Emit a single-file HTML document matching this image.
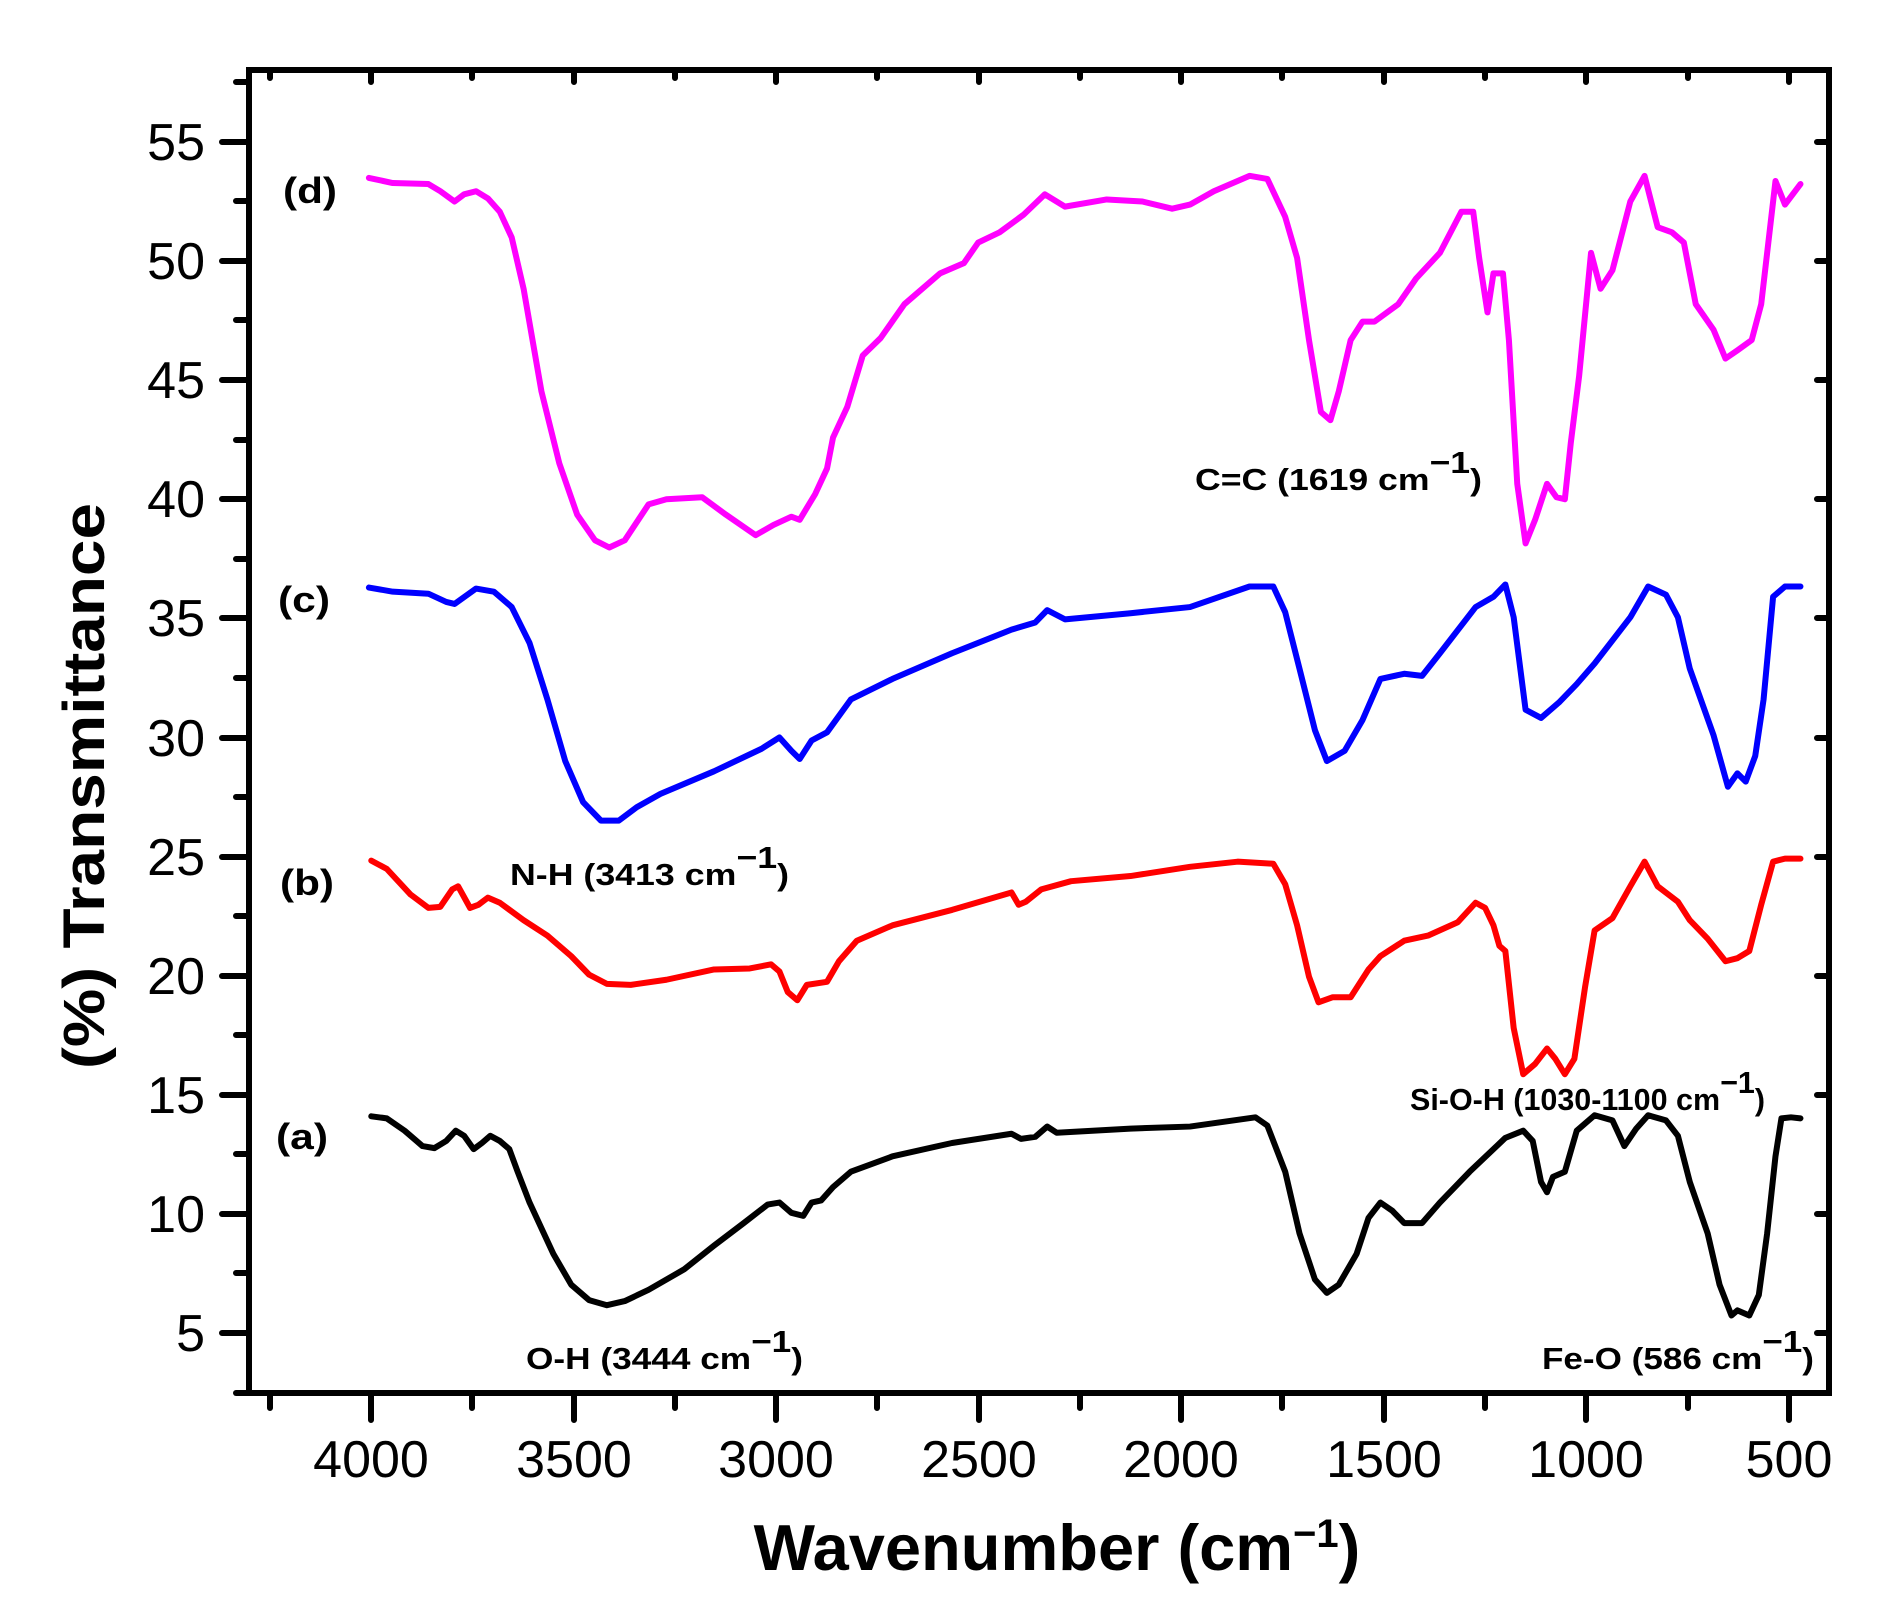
<!DOCTYPE html>
<html><head><meta charset="utf-8"><style>
html,body{margin:0;padding:0;background:#fff;}
svg{display:block;}
text{font-family:"Liberation Sans",Arial,sans-serif;}
.ann{font-size:31px;font-weight:bold;}
.lab{font-size:36px;font-weight:bold;}
.tk{font-size:52px;}
</style></head><body>
<svg width="1877" height="1611" viewBox="0 0 1877 1611" xmlns="http://www.w3.org/2000/svg">
<rect width="1877" height="1611" fill="#fff"/>
<g transform="matrix(1.19 0 0 1.0267 0 1.3)" fill="none" stroke-width="6" stroke-linejoin="round" stroke-linecap="round">
<polyline vector-effect="non-scaling-stroke" stroke="#000" points="312,1086 325,1088 340,1100 355,1115 365,1117 375,1110 383,1100 390,1105 398,1118 405,1112 412,1105 420,1110 428,1118 435,1140 445,1170 455,1195 465,1220 480,1250 495,1265 510,1270 525,1266 545,1255 575,1235 600,1212 625,1190 645,1172 655,1170 665,1180 675,1183 682,1170 690,1168 700,1155 715,1140 750,1125 800,1112 850,1103 858,1108 870,1106 880,1096 888,1102 950,1098 1000,1096 1055,1087 1065,1095 1080,1140 1092,1200 1105,1245 1115,1258 1125,1250 1140,1220 1150,1185 1160,1170 1170,1178 1180,1190 1195,1190 1210,1170 1235,1140 1265,1107 1280,1100 1288,1110 1295,1150 1300,1160 1305,1145 1315,1140 1325,1100 1340,1085 1355,1090 1365,1115 1375,1098 1385,1085 1400,1090 1410,1105 1420,1150 1435,1200 1445,1250 1455,1280 1460,1275 1470,1280 1478,1260 1485,1200 1492,1125 1497,1088 1505,1087 1513,1088"/>
<polyline vector-effect="non-scaling-stroke" stroke="#ff0000" points="312,837 325,845 345,870 360,883 370,882 380,865 385,862 395,883 402,880 410,873 420,878 440,895 460,910 480,930 495,948 510,957 530,958 560,953 600,943 630,942 648,938 655,945 662,965 670,973 678,958 695,955 705,935 720,915 750,900 800,885 850,868 856,880 862,877 875,865 900,857 950,852 1000,843 1040,838 1070,840 1080,860 1090,900 1100,950 1108,975 1120,970 1135,970 1150,943 1160,930 1180,915 1200,910 1225,897 1240,878 1248,883 1255,900 1260,920 1265,925 1272,1000 1280,1045 1290,1035 1300,1020 1307,1030 1315,1045 1323,1030 1332,960 1340,905 1355,893 1370,862 1382,838 1393,862 1410,877 1420,895 1435,913 1450,935 1460,932 1470,925 1480,880 1490,838 1500,835 1513,835"/>
<polyline vector-effect="non-scaling-stroke" stroke="#0000ff" points="310,571 330,575 360,577 375,585 382,587 400,572 415,575 430,590 445,625 460,680 475,740 490,780 505,798 520,798 535,785 555,772 600,750 640,728 655,717 665,730 672,738 682,720 695,712 715,680 750,660 800,635 850,612 870,605 880,593 895,602 950,596 1000,590 1050,570 1070,570 1080,595 1092,650 1105,710 1115,740 1130,730 1145,700 1160,660 1180,655 1195,657 1210,635 1240,590 1255,580 1265,568 1272,600 1282,690 1295,698 1310,683 1325,665 1340,645 1370,600 1385,570 1400,578 1410,600 1420,650 1440,715 1452,765 1460,752 1467,760 1475,735 1482,680 1490,580 1500,570 1513,570"/>
<polyline vector-effect="non-scaling-stroke" stroke="#ff00ff" points="310,172 330,177 360,178 370,185 382,195 390,188 400,185 410,192 420,205 430,230 440,280 455,380 470,450 485,500 500,525 512,532 525,525 545,490 560,485 590,483 610,500 635,520 650,510 665,502 672,505 685,480 695,455 700,425 712,395 725,345 740,328 760,295 790,265 810,255 822,235 840,225 860,208 878,188 895,200 930,193 960,195 985,202 1000,198 1020,185 1050,170 1065,173 1080,210 1090,250 1100,330 1110,400 1118,408 1125,380 1135,330 1145,312 1155,312 1175,295 1190,270 1210,245 1228,205 1238,205 1243,250 1250,303 1255,265 1263,265 1268,330 1275,470 1282,528 1290,505 1300,470 1308,483 1315,485 1320,430 1327,365 1337,245 1345,280 1355,262 1370,195 1382,170 1393,220 1405,225 1415,235 1425,295 1440,320 1450,348 1460,340 1472,330 1480,295 1492,175 1500,198 1513,178"/>
</g>
<g stroke="#000" stroke-width="6" stroke-linecap="round" fill="none">
<rect x="249" y="70" width="1580" height="1323"/>
<line x1="236" y1="1393" x2="249" y2="1393"/>
<path d="M371 1393V1420M574 1393V1420M776 1393V1420M979 1393V1420M1181 1393V1420M1384 1393V1420M1586 1393V1420M1789 1393V1420"/>
<path d="M270 1393V1408M472 1393V1408M675 1393V1408M877 1393V1408M1080 1393V1408M1282 1393V1408M1485 1393V1408M1688 1393V1408"/>
<path d="M371 70V82M574 70V82M776 70V82M979 70V82M1181 70V82M1384 70V82M1586 70V82M1789 70V82M270 70V78M472 70V78M675 70V78M877 70V78M1080 70V78M1282 70V78M1485 70V78M1688 70V78"/>
<path d="M222 1333H249M222 1214H249M222 1095H249M222 976H249M222 857H249M222 738H249M222 618H249M222 499H249M222 380H249M222 261H249M222 142H249"/>
<path d="M236 1273H249M236 1154H249M236 1035H249M236 916H249M236 797H249M236 678H249M236 559H249M236 440H249M236 320H249M236 201H249M236 82H249"/>
<path d="M1817 1333H1829M1817 1214H1829M1817 1095H1829M1817 976H1829M1817 857H1829M1817 738H1829M1817 618H1829M1817 499H1829M1817 380H1829M1817 261H1829M1817 142H1829"/>
</g>
<g class="tk" fill="#000" text-anchor="end">
<text x="205" y="1351">5</text>
<text x="205" y="1232">10</text>
<text x="205" y="1113">15</text>
<text x="205" y="994">20</text>
<text x="205" y="875">25</text>
<text x="205" y="756">30</text>
<text x="205" y="636">35</text>
<text x="205" y="517">40</text>
<text x="205" y="398">45</text>
<text x="205" y="279">50</text>
<text x="205" y="160">55</text>
</g>
<g class="tk" fill="#000" text-anchor="middle">
<text x="371" y="1477">4000</text>
<text x="574" y="1477">3500</text>
<text x="776" y="1477">3000</text>
<text x="979" y="1477">2500</text>
<text x="1181" y="1477">2000</text>
<text x="1384" y="1477">1500</text>
<text x="1586" y="1477">1000</text>
<text x="1789" y="1477">500</text>
</g>
<text x="1057" y="1570" text-anchor="middle" font-size="65" font-weight="bold">Wavenumber (cm<tspan font-size="40" dy="-23">−1</tspan><tspan dy="23">)</tspan></text>
<text transform="translate(104,786) rotate(-90)" text-anchor="middle" font-size="58" font-weight="bold" textLength="566" lengthAdjust="spacingAndGlyphs">(%) Transmittance</text>
<g class="lab">
<text x="283" y="203" textLength="54" lengthAdjust="spacingAndGlyphs">(d)</text>
<text x="278" y="612" textLength="52" lengthAdjust="spacingAndGlyphs">(c)</text>
<text x="280" y="895" textLength="54" lengthAdjust="spacingAndGlyphs">(b)</text>
<text x="276" y="1149" textLength="52" lengthAdjust="spacingAndGlyphs">(a)</text>
</g>
<g class="ann">
<text x="1195" y="490" textLength="287" lengthAdjust="spacingAndGlyphs">C=C (1619 cm<tspan dy="-17">−1</tspan><tspan dy="17">)</tspan></text>
<text x="510" y="885" textLength="279" lengthAdjust="spacingAndGlyphs">N-H (3413 cm<tspan dy="-17">−1</tspan><tspan dy="17">)</tspan></text>
<text x="1410" y="1110" textLength="355" lengthAdjust="spacingAndGlyphs">Si-O-H (1030-1100 cm<tspan dy="-17">−1</tspan><tspan dy="17">)</tspan></text>
<text x="526" y="1369" textLength="277" lengthAdjust="spacingAndGlyphs">O-H (3444 cm<tspan dy="-17">−1</tspan><tspan dy="17">)</tspan></text>
<text x="1542" y="1369" textLength="272" lengthAdjust="spacingAndGlyphs">Fe-O (586 cm<tspan dy="-17">−1</tspan><tspan dy="17">)</tspan></text>
</g>
</svg>
</body></html>
